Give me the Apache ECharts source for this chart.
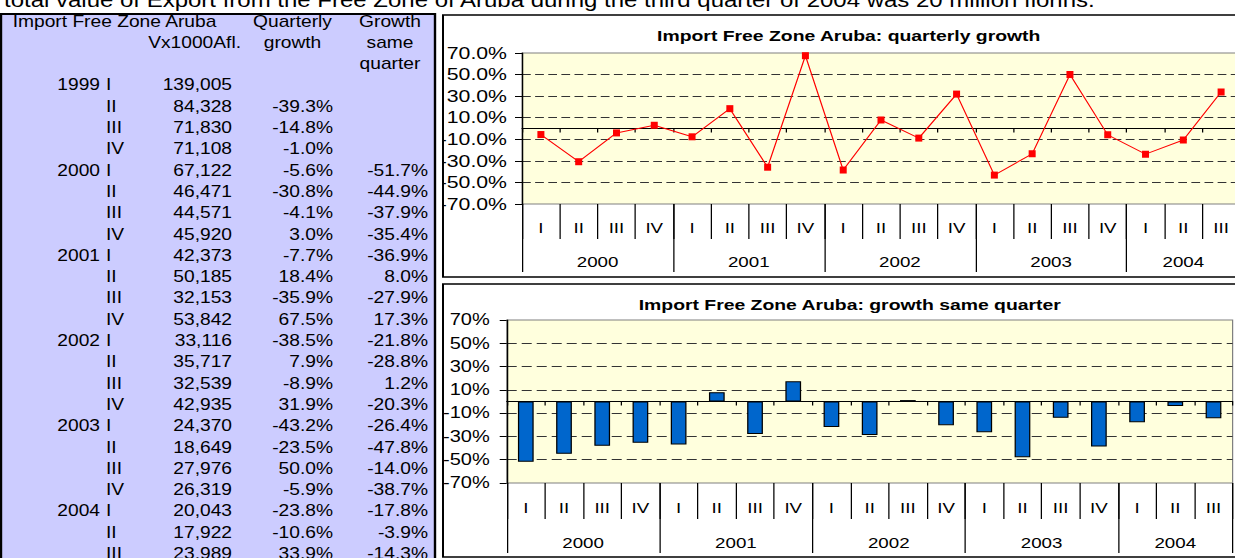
<!DOCTYPE html>
<html><head><meta charset="utf-8">
<script src="https://cdn.jsdelivr.net/npm/echarts@6/dist/echarts.min.js"></script>
<style>
html,body{margin:0;padding:0;width:1235px;height:558px;overflow:hidden;background:#fff;}
#page{position:absolute;left:0;top:0;height:558px;transform-origin:0 0;}
#charts{position:absolute;top:0;height:558px;transform-origin:0 0;}
</style></head><body>
<div id="page"></div><div id="charts"></div>
<script>
// ---------------- data ----------------
const topNote = 'total value of Export from the Free Zone of Aruba during the third quarter of 2004 was 20 million florins.';
const headerRow1 = ['Import Free Zone Aruba', 'Quarterly', 'Growth'];
const headerRow2 = ['Vx1000Afl.', 'growth', 'same'];
const headerRow3 = ['quarter'];
const tableYearLabels = ['1999','','','','2000','','','','2001','','','','2002','','','','2003','','','','2004','',''];
const tableQuarterLabels = ['I','II','III','IV','I','II','III','IV','I','II','III','IV','I','II','III','IV','I','II','III','IV','I','II','III'];
const importValues = [139005, 84328, 71830, 71108, 67122, 46471, 44571, 45920, 42373, 50185, 32153, 53842, 33116, 35717, 32539, 42935, 24370, 18649, 27976, 26319, 20043, 17922, 23989];
const quarterlyGrowth = [null, -39.3, -14.8, -1.0, -5.6, -30.8, -4.1, 3.0, -7.7, 18.4, -35.9, 67.5, -38.5, 7.9, -8.9, 31.9, -43.2, -23.5, 50.0, -5.9, -23.8, -10.6, 33.9];
const sameQuarterGrowth = [null, null, null, null, -51.7, -44.9, -37.9, -35.4, -36.9, 8.0, -27.9, 17.3, -21.8, -28.8, 1.2, -20.3, -26.4, -47.8, -14.0, -38.7, -17.8, -3.9, -14.3];
const chartTitle1 = 'Import Free Zone Aruba: quarterly growth';
const chartTitle2 = 'Import Free Zone Aruba: growth same quarter';
const chartStartIndex = 4;            // charts start at 2000 I
const chartYears = ['2000', '2001', '2002', '2003', '2004'];

// ---------------- layout ----------------
const TSX = 1.2, CSX = 1.25;
const FONT = '"Liberation Sans", Arial, Helvetica, sans-serif';
const pageEl = document.getElementById('page');
pageEl.style.width = (1235 / TSX) + 'px';
pageEl.style.transform = 'scaleX(' + TSX + ')';
const chartsEl = document.getElementById('charts');
chartsEl.style.left = '442px';
chartsEl.style.width = '650px';
chartsEl.style.transform = 'scaleX(' + CSX + ')';

const tx = x => x / TSX;
const ROW0 = 85, ROWH = 21.3;
function txt(s, xRef, y, align, size, weight) {
  return {type: 'text', x: tx(xRef), y: y, silent: true,
    style: {text: s, fontFamily: FONT, fontSize: size || 16, fontWeight: weight || 'normal', fill: '#000',
      textAlign: align, align: align, textVerticalAlign: 'middle', verticalAlign: 'middle'}};
}
const fmtNum = v => v.toLocaleString('en-US');
const fmtPct = v => v.toFixed(1) + '%';

const pageGraphics = [];
pageGraphics.push({type: 'rect', silent: true, shape: {x: tx(1), y: 14, width: tx(434), height: 600},
  style: {fill: '#CCCCFF', stroke: '#000', lineWidth: 2}});
pageGraphics.push({type: 'text', x: tx(4), y: 10.5, silent: true,
  style: {text: topNote, fontFamily: FONT, fontSize: 20, fill: '#000', textAlign: 'left', align: 'left', textVerticalAlign: 'bottom', verticalAlign: 'bottom'}});
const hy = [ROW0 - 3 * ROWH + 0.5, ROW0 - 2 * ROWH, ROW0 - ROWH];
pageGraphics.push(txt(headerRow1[0], 12.7, hy[0], 'left'));
pageGraphics.push(txt(headerRow1[1], 292.5, hy[0], 'center'));
pageGraphics.push(txt(headerRow1[2], 390, hy[0], 'center'));
pageGraphics.push(txt(headerRow2[0], 241, hy[1], 'right'));
pageGraphics.push(txt(headerRow2[1], 292.5, hy[1], 'center'));
pageGraphics.push(txt(headerRow2[2], 390, hy[1], 'center'));
pageGraphics.push(txt(headerRow3[0], 390, hy[2], 'center'));
importValues.forEach((v, i) => {
  const y = ROW0 + i * ROWH;
  if (tableYearLabels[i]) pageGraphics.push(txt(tableYearLabels[i], 100, y, 'right'));
  pageGraphics.push(txt(tableQuarterLabels[i], 106, y, 'left'));
  pageGraphics.push(txt(fmtNum(v), 232, y, 'right'));
  if (quarterlyGrowth[i] != null) pageGraphics.push(txt(fmtPct(quarterlyGrowth[i]), 333, y, 'right'));
  if (sameQuarterGrowth[i] != null) pageGraphics.push(txt(fmtPct(sameQuarterGrowth[i]), 428, y, 'right'));
});

const pageChart = echarts.init(pageEl, null, {renderer: 'svg'});
pageChart.setOption({animation: false, graphic: {elements: pageGraphics}});

// ---------------- charts ----------------
const chartQuarters = tableQuarterLabels.slice(chartStartIndex);
const lineData = quarterlyGrowth.slice(chartStartIndex);
const barData = sameQuarterGrowth.slice(chartStartIndex);
const nQ = chartQuarters.length;
const yearGroups = [];
tableYearLabels.slice(chartStartIndex).forEach((y, i) => {
  if (y) yearGroups.push({label: y, start: i, count: 0});
  yearGroups[yearGroups.length - 1].count++;
});
const yearBoundaries = yearGroups.map(g => g.start).concat([nQ]);
const yearCenters = yearGroups.map(g => g.start + g.count / 2);
const yearLabelAt = v => {
  const k = yearCenters.findIndex(c => Math.abs(c - v) < 0.01);
  return k >= 0 ? chartYears[k] : '';
};

const cx = x => (x - 442) / CSX;
const txtStyle = {fontFamily: FONT, color: '#000'};

function xAxesFor(gi, qLen, yLen, qMargin, yMargin) {
  return [
    {gridIndex: gi, type: 'category', data: chartQuarters, boundaryGap: true,
      axisLine: {show: true, onZero: true, lineStyle: {color: '#000', width: 1}},
      axisTick: {show: true, interval: 0, length: 4, lineStyle: {color: '#000'}},
      axisLabel: {show: false}, splitLine: {show: false}},
    {gridIndex: gi, type: 'category', data: chartQuarters, position: 'bottom', boundaryGap: true,
      axisLine: {show: false, onZero: false},
      axisTick: {show: true, interval: 0, length: qLen, lineStyle: {color: '#000'}},
      axisLabel: Object.assign({show: true, interval: 0, margin: qMargin, verticalAlign: 'middle', fontSize: 15}, txtStyle),
      splitLine: {show: false}},
    {gridIndex: gi, type: 'value', min: 0, max: nQ, position: 'bottom',
      axisLine: {show: false, onZero: false},
      axisTick: {show: true, length: yLen, customValues: yearBoundaries, lineStyle: {color: '#000'}},
      axisLabel: Object.assign({show: true, customValues: yearCenters, formatter: yearLabelAt, margin: yMargin, verticalAlign: 'middle', fontSize: 15}, txtStyle),
      splitLine: {show: false}}
  ];
}
function yAxisFor(gi, fmt, size, margin, dash) {
  return {gridIndex: gi, type: 'value', min: -70, max: 70, interval: 20, position: 'left',
    axisLine: {show: true, onZero: false, lineStyle: {color: '#000'}},
    axisTick: {show: true, length: 5.6, lineStyle: {color: '#000'}},
    axisLabel: Object.assign({formatter: fmt, margin: margin, fontSize: size}, txtStyle),
    splitLine: {show: true, showMinLine: false, showMaxLine: false, lineStyle: {color: '#333', width: 1, type: dash}}};
}

const chart = echarts.init(chartsEl, null, {renderer: 'svg'});
chart.setOption({
  animation: false,
  graphic: {elements: [
    {type: 'rect', z: -100, silent: true, shape: {x: 0.8, y: 15, width: 700, height: 262}, style: {fill: '#fff', stroke: '#000', lineWidth: 1.6}},
    {type: 'rect', z: -100, silent: true, shape: {x: 0.8, y: 284, width: 700, height: 273}, style: {fill: '#fff', stroke: '#000', lineWidth: 1.6}}
  ]},
  title: [
    {text: chartTitle1, left: cx(842.5), top: 23, textAlign: 'center', textStyle: {fontFamily: FONT, fontSize: 15.5, fontWeight: 'bold', color: '#000'}},
    {text: chartTitle2, left: cx(843.5), top: 292, textAlign: 'center', textStyle: {fontFamily: FONT, fontSize: 15.5, fontWeight: 'bold', color: '#000'}}
  ],
  grid: [
    {left: cx(522), top: 53, width: (1240 - 522) / CSX, height: 151, show: true, backgroundColor: '#FFFFDD', borderColor: '#808080', borderWidth: 1, outerBoundsMode: 'none'},
    {left: cx(506.7), top: 320, width: (1232.6 - 506.7) / CSX, height: 163, show: true, backgroundColor: '#FFFFDD', borderColor: '#808080', borderWidth: 1, outerBoundsMode: 'none'}
  ],
  xAxis: xAxesFor(0, 35, 68, 24, 58).concat(xAxesFor(1, 36, 70, 25, 60)),
  yAxis: [
    yAxisFor(0, v => v.toFixed(1) + '%', 17, 12, [7, 3.5]),
    yAxisFor(1, v => v + '%', 16, 13.6, [8, 4])
  ],
  series: [
    {type: 'line', xAxisIndex: 0, yAxisIndex: 0, data: lineData, color: '#FF0000',
      lineStyle: {color: '#FF0000', width: 1}, symbol: 'rect', symbolSize: [5.6, 7],
      itemStyle: {color: '#FF0000'}, z: 5},
    {type: 'bar', xAxisIndex: 3, yAxisIndex: 1, data: barData, barWidth: 12.6,
      itemStyle: {color: '#0066CC', borderColor: '#000', borderWidth: 1}, z: 5}
  ]
});
</script>
</body></html>
